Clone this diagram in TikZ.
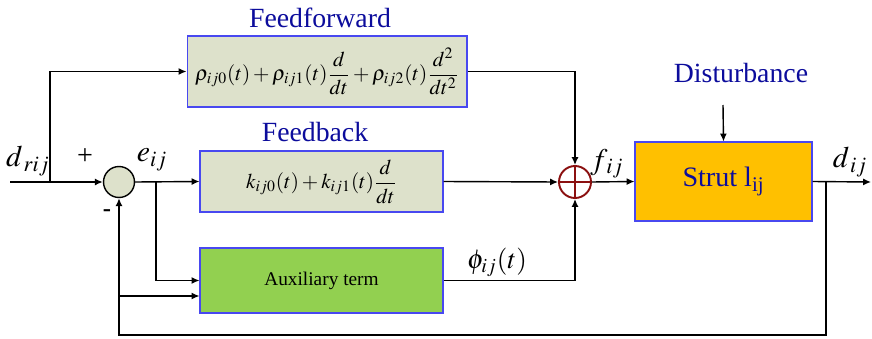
\documentclass[tikz,border=0pt]{standalone}
\usepackage{mathptmx}
\usepackage{fontspec}
\setmainfont{Liberation Serif}
\usetikzlibrary{positioning,arrows.meta,calc}
\definecolor{titleblue}{HTML}{0C0C9C}
\definecolor{boxedge}{HTML}{4848F0}
\definecolor{gainfill}{HTML}{DDE1CB}
\definecolor{auxfill}{HTML}{92D050}
\definecolor{strutfill}{HTML}{FFC000}
\definecolor{sumred}{HTML}{8B1010}

\begin{document}
\begin{tikzpicture}[x=0.02cm,y=-0.02cm,line width=0.8pt,
  blk/.style={draw=boxedge,line width=0.6pt,inner sep=0pt},
  head/.style={text=titleblue,font=\fontsize{15.8}{18}\selectfont},
  sig/.style={-{Latex[length=4.5pt,width=4pt]}},
  mlab/.style={font=\fontsize{17}{19}\selectfont}]
\useasboundingbox (0,0) rectangle (872,338);
% blocks
\node[blk,fill=gainfill,minimum width=5.6cm,minimum height=1.42cm,font=\fontsize{12}{14}\selectfont] (ff) at (327,71.5)
  {$\displaystyle \rho_{ij0}(t)+\rho_{ij1}(t)\frac{d}{dt}+\rho_{ij2}(t)\frac{d^2}{dt^2}$};
\node[blk,fill=gainfill,minimum width=4.86cm,minimum height=1.22cm,font=\fontsize{12}{14}\selectfont] (fb) at (321.5,181.5)
  {$\displaystyle k_{ij0}(t)+k_{ij1}(t)\frac{d}{dt}$};
\node[blk,fill=auxfill,minimum width=4.86cm,minimum height=1.3cm,font=\fontsize{11}{13}\selectfont] (aux) at (321.5,280.5)
  {Auxiliary term};
\node[blk,fill=strutfill,minimum width=3.54cm,minimum height=1.58cm,text=titleblue,font=\fontsize{16}{18}\selectfont] (strut) at (723.5,181.5)
  {Strut l\textsubscript{ij}};
% summing junctions
\node[circle,draw,fill=gainfill,minimum size=0.62cm,inner sep=0pt] (sum1) at (119,182) {};
\node[circle,draw=sumred,line width=1.1pt,minimum size=0.64cm,inner sep=0pt] (sum2) at (575,182) {};
\draw[sumred,line width=1.1pt] (sum2.north) -- (sum2.south) (sum2.west) -- (sum2.east);
% headings and signals
\node[head] (ffhead) at (320,18) {Feedforward};
\node[head] (fbhead) at (315,132) {Feedback};
\node[head] (dist) at (741,73) {Disturbance};
\node[mlab] (dr) at (28,161) {$d_{\,rij}$};
\node[mlab] (err) at (152,160) {$e_{ij}$};
\node[mlab] (force) at (607,164) {$f_{\,ij}$};
\node[mlab] (len) at (850,162) {$d_{\,ij}$};
\node[font=\fontsize{15.5}{18}\selectfont] (aux_out) at (497,262) {$\phi_{ij}(t)$};
\node[font=\fontsize{16}{18}\selectfont] (plus) at (85,157) {+};
\node[font=\fontsize{14}{16}\selectfont\bfseries] (minus) at (107,213) {-};
% connectors
\coordinate (in) at (10,182);
\coordinate (tap) at (50,182);
\coordinate (etap) at (156,182);
\coordinate (fbtap) at (119,296);
\coordinate (out) at (826,182);
\coordinate (yout) at (871,182);
\coordinate (dtop) at (723,105);
\draw[sig] (in) -- (sum1.west);
\draw[sig] (tap) |- (ff.west);
\draw[sig] (sum1.east) -- (fb.west);
\draw[sig] (etap) |- (aux.west);
\draw[sig] (fbtap) -- (fbtap -| aux.west);
\draw[sig] (out) -- ++(0,153) -| (sum1.south);
\draw[sig] (ff.east) -| (sum2.north);
\draw[sig] (fb.east) -- (sum2.west);
\draw[sig] (aux.east) -| (sum2.south);
\draw[sig] (sum2.east) -- (strut.west);
\draw[sig] (strut.east) -- (yout);
\draw[sig] (dtop) -- (strut.north);
\end{tikzpicture}
\end{document}
